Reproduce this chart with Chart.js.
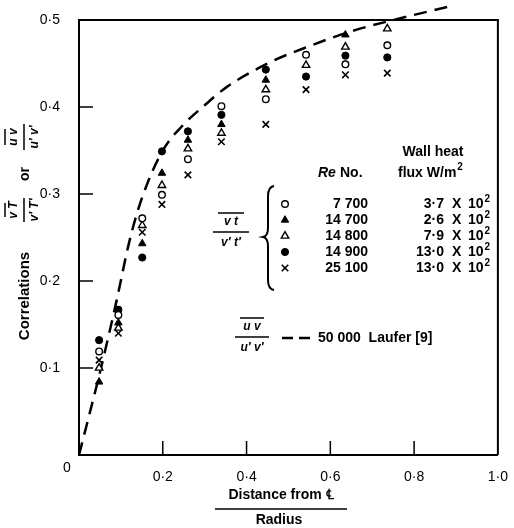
<!DOCTYPE html>
<html>
<head>
<meta charset="utf-8">
<script src="https://cdn.jsdelivr.net/npm/chart.js@4"></script>
<style>
  body { margin: 0; background: #fff; }
  canvas { display: block; }
</style>
</head>
<body>
<canvas id="corr" width="514" height="528"></canvas>
<script>
// radial stations (distance from centreline / radius)
const stations = [0.048, 0.094, 0.151, 0.198, 0.26, 0.34, 0.446, 0.542, 0.636, 0.736];

// v't' correlation, one array per run
const re7700  = [0.119, 0.161, 0.272, 0.299, 0.34, 0.401, 0.409, 0.46, 0.449, 0.471];
const re14700 = [0.084, 0.152, 0.243, 0.324, 0.362, 0.38, 0.431, null, 0.483, 0.508];
const re14800 = [0.1, 0.146, 0.264, 0.31, 0.352, 0.37, 0.42, 0.448, 0.469, 0.49];
const re14900 = [0.132, 0.167, 0.227, 0.349, 0.372, 0.391, 0.443, 0.435, 0.459, 0.457];
const re25100 = [0.109, 0.14, 0.256, 0.288, 0.322, 0.36, 0.38, 0.42, 0.437, 0.439];

// Laufer u'v' curve, Re 50 000
const lauferX = [0, 0.05, 0.09, 0.12, 0.15, 0.2, 0.25, 0.3, 0.35, 0.45, 0.55, 0.65, 0.75, 0.88];
const lauferY = [0, 0.095, 0.178, 0.245, 0.295, 0.35, 0.38, 0.402, 0.422, 0.45, 0.47, 0.487, 0.5, 0.515];

const reLabels   = ['7 700', '14 700', '14 800', '14 900', '25 100'];
const fluxLabels = ['3·7', '2·6', '7·9', '13·0', '13·0'];

const xTicks = [0.2, 0.4, 0.6, 0.8];
const yTicks = [0.1, 0.2, 0.3, 0.4];

const pts = (ys) => stations.map((x, i) => ({ x: x, y: ys[i] })).filter(p => p.y !== null);
const fmt = (v) => v.toFixed(1).replace('.', '·');

const styles = [
  { pointStyle: 'circle',   radius: 3.3, backgroundColor: '#fff', borderWidth: 1.4 },
  { pointStyle: 'triangle', radius: 4.3, backgroundColor: '#000', borderWidth: 1 },
  { pointStyle: 'triangle', radius: 4.3, backgroundColor: '#fff', borderWidth: 1.4 },
  { pointStyle: 'circle',   radius: 3.6, backgroundColor: '#000', borderWidth: 1 },
  { pointStyle: 'crossRot', radius: 4.6, backgroundColor: '#000', borderWidth: 1.6 }
];
const series = [re7700, re14700, re14800, re14900, re25100];

const datasets = series.map((s, i) => ({
  label: 'Re ' + reLabels[i],
  data: pts(s),
  pointStyle: styles[i].pointStyle,
  pointRadius: styles[i].radius,
  pointBackgroundColor: styles[i].backgroundColor,
  pointBorderColor: '#000',
  pointBorderWidth: styles[i].borderWidth,
  clip: false
}));
datasets.push({
  label: 'Laufer',
  data: lauferX.map((x, i) => ({ x: x, y: lauferY[i] })),
  showLine: true,
  borderColor: '#000',
  borderWidth: 2.5,
  borderDash: [13, 8],
  cubicInterpolationMode: 'monotone',
  pointRadius: 0,
  clip: false
});

const FONT = "'Liberation Sans', Arial, sans-serif";

function fraction(ctx, num, den, cx, cy, w) {
  ctx.textAlign = 'center';
  ctx.textBaseline = 'middle';
  ctx.font = 'italic bold 12px ' + FONT;
  ctx.fillText(num, cx, cy - 10);
  ctx.fillText(den, cx, cy + 11);
  ctx.lineWidth = 1.5;
  ctx.beginPath();
  ctx.moveTo(cx - w / 2, cy); ctx.lineTo(cx + w / 2, cy);
  ctx.moveTo(cx - w / 2 + 5, cy - 19); ctx.lineTo(cx + w / 2 - 5, cy - 19);
  ctx.stroke();
}

const decor = {
  id: 'decor',
  afterDraw(chart) {
    const ctx = chart.ctx;
    const a = chart.chartArea;
    const xs = chart.scales.x, ys = chart.scales.y;
    ctx.save();
    ctx.strokeStyle = '#000';
    ctx.fillStyle = '#000';

    // box top/right
    ctx.lineWidth = 2;
    ctx.beginPath();
    ctx.moveTo(a.left, a.top); ctx.lineTo(a.right, a.top); ctx.lineTo(a.right, a.bottom);
    ctx.stroke();

    // inward ticks
    ctx.lineWidth = 1.5;
    ctx.beginPath();
    xTicks.forEach(v => { const p = xs.getPixelForValue(v); ctx.moveTo(p, a.bottom); ctx.lineTo(p, a.bottom - 14); });
    yTicks.forEach(v => { const p = ys.getPixelForValue(v); ctx.moveTo(a.left, p); ctx.lineTo(a.left + 14, p); });
    ctx.stroke();

    // origin label
    ctx.font = '14px ' + FONT;
    ctx.textAlign = 'center';
    ctx.textBaseline = 'middle';
    ctx.fillText('0', 67, 468);

    // x title
    ctx.font = 'bold 14px ' + FONT;
    ctx.fillText('Distance from ℄', 281, 495);
    ctx.fillText('Radius', 279, 520);
    ctx.lineWidth = 1.5;
    ctx.beginPath(); ctx.moveTo(215, 509); ctx.lineTo(347, 509); ctx.stroke();

    // y title (rotated)
    const rot = (cx, cy, fn) => { ctx.save(); ctx.translate(cx, cy); ctx.rotate(-Math.PI / 2); fn(); ctx.restore(); };
    rot(25, 296, () => { ctx.font = 'bold 15px ' + FONT; ctx.textAlign = 'center'; ctx.textBaseline = 'middle'; ctx.fillText('Correlations', 0, 0); });
    rot(24, 210, () => fraction(ctx, 'v T', "v′ T′", 0, 0, 24));
    rot(25, 174, () => { ctx.font = 'bold 14px ' + FONT; ctx.textAlign = 'center'; ctx.textBaseline = 'middle'; ctx.fillText('or', 0, 0); });
    rot(24, 137, () => fraction(ctx, 'u v', "u′ v′", 0, 0, 26));

    // legend header
    ctx.textBaseline = 'middle';
    ctx.textAlign = 'center';
    ctx.font = 'bold 14px ' + FONT;
    ctx.fillText('Wall heat', 433, 152);
    ctx.textAlign = 'left';
    ctx.fillText('flux W/m', 398, 173);
    const fw = ctx.measureText('flux W/m').width;
    ctx.font = 'bold 10px ' + FONT;
    ctx.fillText('2', 398 + fw + 1, 167);
    ctx.font = 'italic bold 14px ' + FONT;
    ctx.fillText('Re', 318, 173);
    ctx.font = 'bold 14px ' + FONT;
    ctx.fillText('No.', 340, 173);

    // legend rows
    const rowY = [204, 220, 236, 252, 268];
    rowY.forEach((y, i) => {
      ctx.fillStyle = styles[i].backgroundColor;
      ctx.strokeStyle = '#000';
      ctx.lineWidth = styles[i].borderWidth;
      Chart.helpers.drawPoint(ctx, { pointStyle: styles[i].pointStyle, radius: styles[i].radius, rotation: 0, borderWidth: styles[i].borderWidth }, 285, y);
      ctx.fillStyle = '#000';
      ctx.font = 'bold 14px ' + FONT;
      ctx.textAlign = 'right';
      ctx.fillText(reLabels[i], 368, y);
      ctx.fillText(fluxLabels[i], 444, y);
      ctx.textAlign = 'left';
      ctx.fillText('X', 452, y);
      ctx.fillText('10', 468, y);
      const w = ctx.measureText('10').width;
      ctx.font = 'bold 10px ' + FONT;
      ctx.fillText('2', 468 + w + 1, y - 5);
    });

    // brace
    ctx.lineWidth = 2;
    ctx.beginPath();
    ctx.moveTo(274, 186);
    ctx.quadraticCurveTo(268, 187, 268, 196);
    ctx.lineTo(268, 228);
    ctx.quadraticCurveTo(268, 236, 263, 237);
    ctx.quadraticCurveTo(268, 238, 268, 246);
    ctx.lineTo(268, 280);
    ctx.quadraticCurveTo(268, 289, 274, 290);
    ctx.stroke();

    fraction(ctx, 'v t', "v′ t′", 231, 232, 36);

    // Laufer legend
    fraction(ctx, 'u v', "u′ v′", 252, 337, 34);
    ctx.lineWidth = 2.5;
    ctx.beginPath();
    ctx.moveTo(282, 338); ctx.lineTo(293, 338);
    ctx.moveTo(299, 338); ctx.lineTo(310, 338);
    ctx.stroke();
    ctx.font = 'bold 14px ' + FONT;
    ctx.textAlign = 'left';
    ctx.fillText('50 000  Laufer [9]', 318, 338);
    ctx.restore();
  }
};

new Chart(document.getElementById('corr'), {
  type: 'scatter',
  data: { datasets: datasets },
  plugins: [decor],
  options: {
    responsive: false,
    animation: false,
    layout: { padding: { top: 20, right: 10, left: 0, bottom: 0 } },
    plugins: { legend: { display: false }, tooltip: { enabled: false } },
    scales: {
      x: {
        type: 'linear', min: 0, max: 1,
        afterFit: (s) => { s.height = 73; },
        grid: { display: false },
        border: { display: true, color: '#000', width: 2 },
        ticks: {
          stepSize: 0.2, padding: 6, color: '#000', maxRotation: 0,
          font: { size: 14, family: FONT },
          callback: (v) => v === 0 ? '' : fmt(v)
        }
      },
      y: {
        min: 0, max: 0.5,
        afterFit: (s) => { s.width = 79; },
        grid: { display: false },
        border: { display: true, color: '#000', width: 2 },
        ticks: {
          stepSize: 0.1, padding: 11, color: '#000',
          font: { size: 14, family: FONT },
          callback: (v) => v === 0 ? '' : fmt(v)
        }
      }
    }
  }
});
</script>
</body>
</html>
